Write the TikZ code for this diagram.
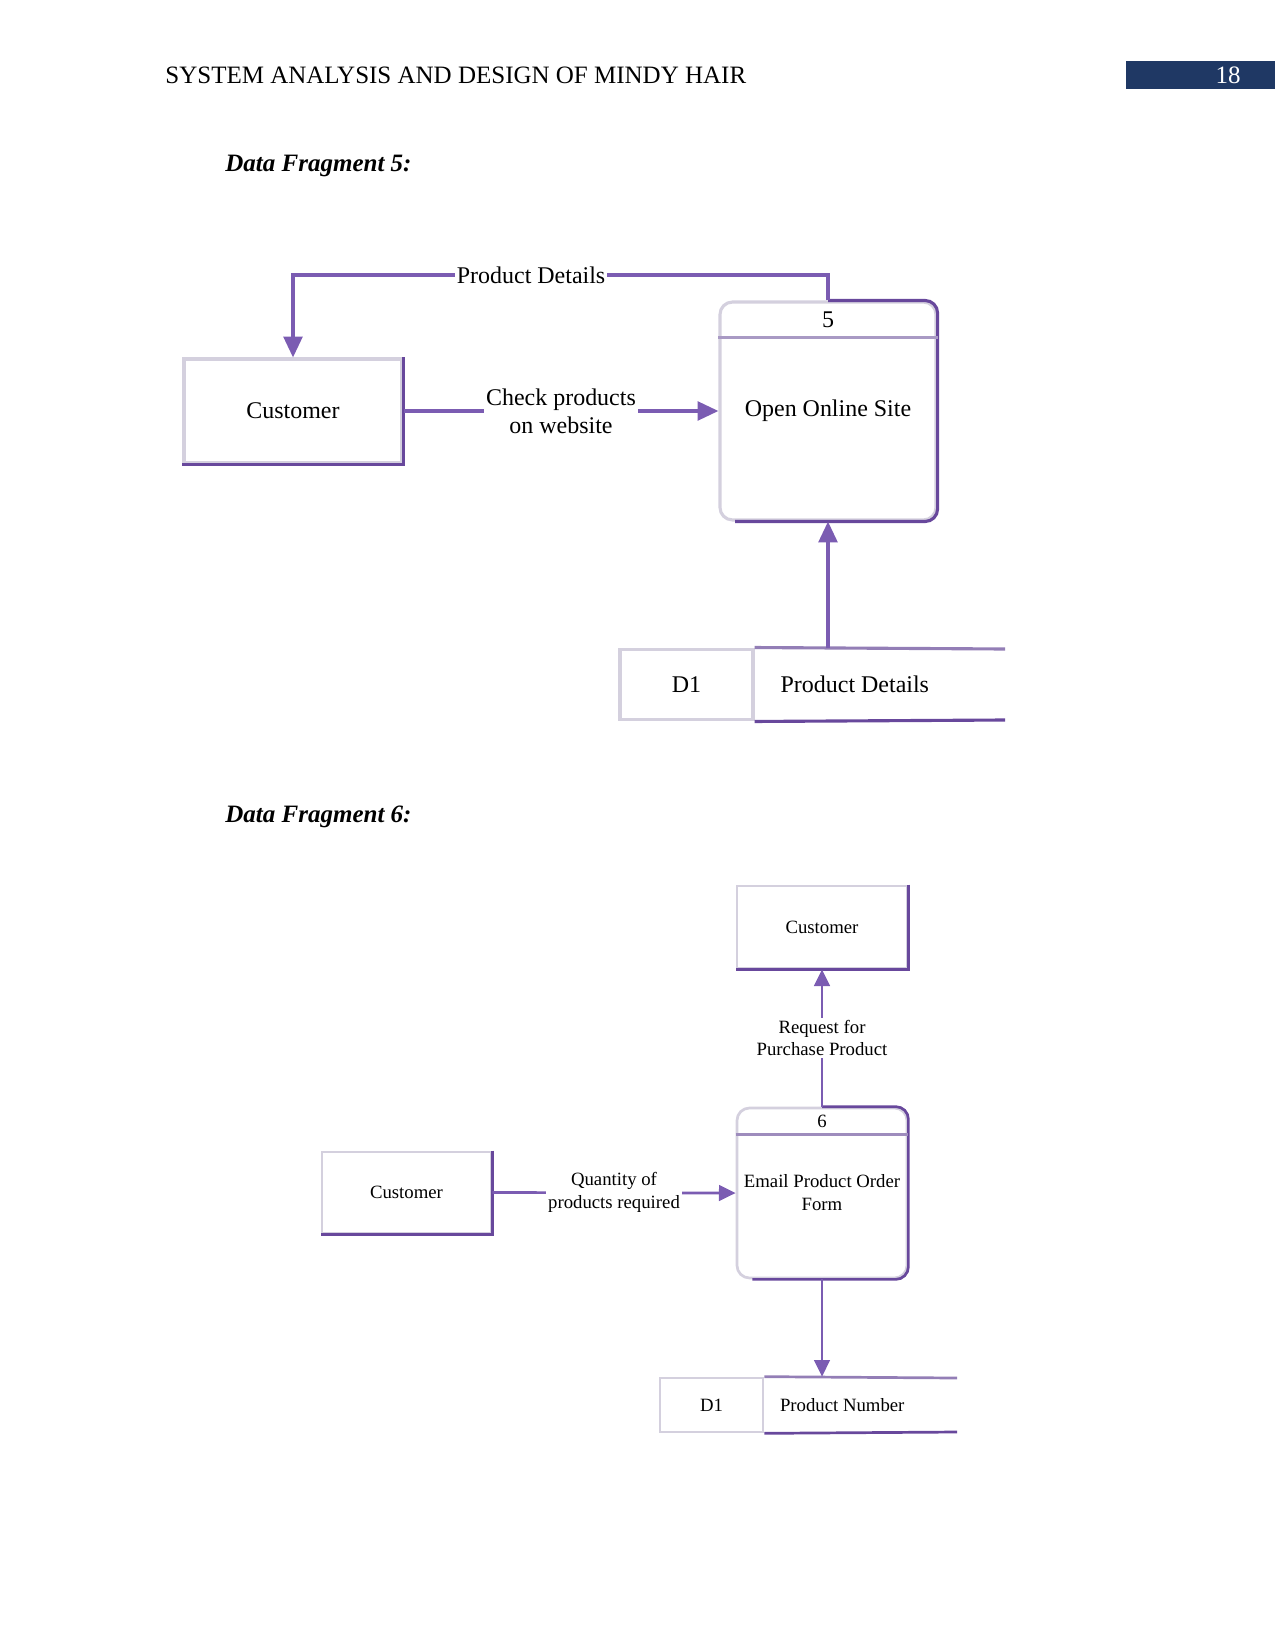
\documentclass[tikz,border=0pt]{standalone}
\usepackage{fontspec}
\setmainfont{Liberation Serif}
\usetikzlibrary{arrows.meta}

\definecolor{flowpurple}{RGB}{123,92,178}
\definecolor{edgepurple}{RGB}{104,72,156}
\definecolor{edgelight}{RGB}{212,208,222}
\definecolor{headblue}{RGB}{31,56,100}

\begin{document}
\begin{tikzpicture}[x=0.48pt,y=-0.48pt,>={Triangle[width=9pt,length=10pt]},
  big/.style={font=\fontsize{11.5}{13.5}\selectfont},
  small/.style={font=\fontsize{9}{11}\selectfont},
  entity/.style={draw=edgelight,fill=white,line width=1.5pt,inner sep=0pt,align=center},
  process/.style={entity,rounded corners=6pt},
  darkedge/.style={draw=edgepurple,line width=1.5pt},
  flow/.style={->,draw=flowpurple,line width=1.6pt},
  flowlabel/.style={fill=white,inner sep=1pt,align=center}]

  \useasboundingbox (0,0) rectangle (1275,1650);

  % page header
  \node[anchor=west,inner sep=0pt,font=\fontsize{12}{14}\selectfont] (title) at (165,75) {SYSTEM ANALYSIS AND DESIGN OF MINDY HAIR};
  \fill[headblue] (1126,61) rectangle (1275,89);
  \node[text=white,font=\fontsize{12}{14}\selectfont] (pagenum) at (1228,75) {18};

  \node[anchor=west,inner sep=0pt,font=\fontsize{12}{14}\bfseries\itshape] (frag5) at (225,166) {Data Fragment 5:};
  \node[anchor=west,inner sep=0pt,font=\fontsize{12}{14}\bfseries\itshape] (frag6) at (225,817) {Data Fragment 6:};

  % fragment 5
  \node[entity,big,minimum width=104.6pt,minimum height=49.9pt] (cust) at (293,411) {Customer};
  \draw[darkedge] (cust.north east) -- (cust.south east) -- (cust.south west);

  \node[process,big,minimum width=103.7pt,minimum height=104.6pt] (site) at (828,411) {Open Online Site};
  \draw[darkedge,rounded corners=6pt] (site.north) -- (site.north east) -- (site.south east) -- ([xshift=8pt]site.south west);
  \draw[draw=edgelight!60!edgepurple,line width=1.5pt] ([yshift=-17.8pt]site.north west) -- ([yshift=-17.8pt]site.north east);
  \node[big] (num5) at (828,320) {5};

  \node[entity,big,minimum width=63.8pt,minimum height=34pt] (store5) at (686.5,684.5) {D1};
  \coordinate (store5top) at (1005,649);
  \coordinate (store5bot) at (1005,720);
  \draw[draw=edgelight!40!edgepurple,line width=1.5pt] (store5.north east) -- (store5top);
  \draw[darkedge] (store5.south east) -- (store5bot);
  \node[big,anchor=west] (store5name) at ([xshift=9pt]store5.east) {Product Details};

  \coordinate (topright) at (828,275);
  \coordinate (topleft) at (293,275);
  \draw[flow] (site.north) -- (topright) -- node[flowlabel,big,pos=0.555] {Product Details} (topleft) -- (cust.north);
  \draw[flow] (cust.east) -- node[flowlabel,big] {Check products\\on website} (site.west);
  \draw[flow] (site.south |- store5.north) -- (site.south);

  % fragment 6
  \begin{scope}[entity/.append style={line width=1.3pt},darkedge/.append style={line width=1.3pt},
    flow/.append style={line width=1.3pt},>={Triangle[width=7.5pt,length=8pt]}]
  \node[entity,small,minimum width=81.6pt,minimum height=39.4pt] (custtop) at (822,927) {Customer};
  \draw[darkedge] (custtop.north east) -- (custtop.south east) -- (custtop.south west);

  \node[entity,small,minimum width=81.1pt,minimum height=38.9pt] (custleft) at (406.5,1192.5) {Customer};
  \draw[darkedge] (custleft.north east) -- (custleft.south east) -- (custleft.south west);

  \node[process,small,minimum width=81.6pt,minimum height=81.6pt] (email) at (822,1193) {Email Product Order\\Form};
  \draw[darkedge,rounded corners=6pt] (email.north) -- (email.north east) -- (email.south east) -- ([xshift=8pt]email.south west);
  \draw[draw=edgelight!50!edgepurple,line width=1.3pt] ([yshift=-13.4pt]email.north west) -- ([yshift=-13.4pt]email.north east);
  \node[small] (num6) at (822,1121) {6};

  \node[entity,small,minimum width=49.4pt,minimum height=25.9pt] (store6) at (711.5,1405) {D1};
  \coordinate (store6top) at (957,1378);
  \coordinate (store6bot) at (957,1432);
  \draw[draw=edgelight!40!edgepurple,line width=1.3pt] (store6.north east) -- (store6top);
  \draw[darkedge] (store6.south east) -- (store6bot);
  \node[small,anchor=west] (store6name) at ([xshift=4pt]store6.east) {Product Number};

  \draw[flow] (email.north) -- node[flowlabel,small] {Request for\\Purchase Product} (custtop.south);
  \draw[flow] (custleft.east) -- node[flowlabel,small] {Quantity of\\products required} (email.west);
  \draw[flow] (email.south) -- (email.south |- store6.north);
  \end{scope}
\end{tikzpicture}
\end{document}
